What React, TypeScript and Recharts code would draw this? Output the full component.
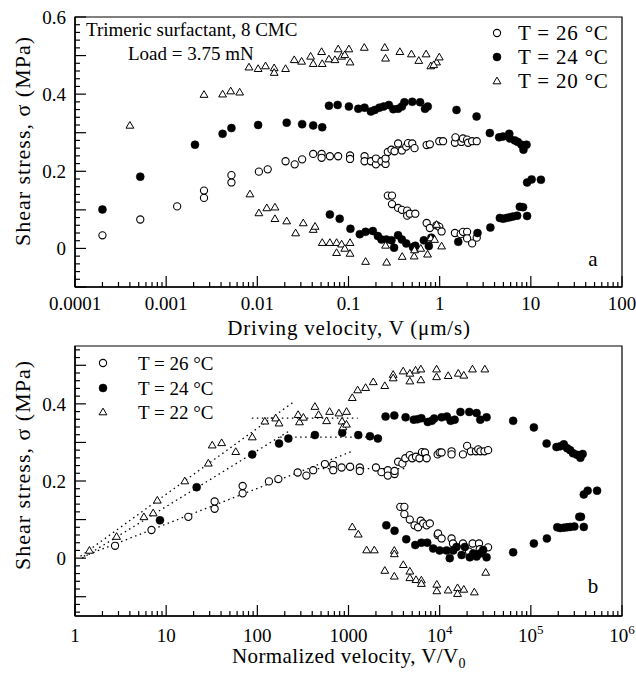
import React from 'react';
import { ScatterChart, Scatter, XAxis, YAxis, ReferenceLine, ReferenceArea } from 'recharts';

type P = [number, number];

// ---------- Panel a : driving velocity (um/s) vs shear stress (MPa) ----------
const aT26: P[] = [
  [2.0e-4, 0.034], [5.2e-4, 0.075], [1.32e-3, 0.109], [2.6e-3, 0.131], [2.6e-3, 0.150],
  [5.2e-3, 0.171], [5.2e-3, 0.190],
  [0.0104, 0.199], [0.013, 0.205], [0.0204, 0.226], [0.0257, 0.218], [0.031, 0.231],
  [0.041, 0.245], [0.0507, 0.245], [0.0507, 0.235], [0.0625, 0.239], [0.077, 0.239],
  [0.104, 0.241], [0.104, 0.232], [0.15, 0.239], [0.15, 0.226], [0.176, 0.226],
  [0.2, 0.218], [0.2, 0.233], [0.23, 0.226], [0.255, 0.219], [0.255, 0.233],
  [0.27, 0.25], [0.296, 0.256], [0.32, 0.252], [0.35, 0.272], [0.385, 0.254],
  [0.43, 0.264], [0.45, 0.273], [0.5, 0.272], [0.53, 0.26], [0.72, 0.268], [0.78, 0.27],
  [0.99, 0.278], [1.09, 0.278], [1.47, 0.274], [1.49, 0.288], [1.73, 0.276], [1.8, 0.285],
  [2.0, 0.282], [2.05, 0.274], [2.27, 0.278], [2.55, 0.278],
  [0.27, 0.137], [0.3, 0.137], [0.3, 0.115], [0.35, 0.105], [0.385, 0.10], [0.44, 0.098],
  [0.44, 0.085], [0.47, 0.09], [0.54, 0.09], [0.72, 0.066], [0.78, 0.053], [0.925, 0.06],
  [0.99, 0.056], [1.05, 0.044], [1.47, 0.04], [1.7, 0.037], [1.8, 0.043], [2.0, 0.043],
  [2.0, 0.026], [2.27, 0.013], [2.55, 0.028],
];

const aT24: P[] = [
  [2.0e-4, 0.101], [5.2e-4, 0.186], [2.07e-3, 0.269], [4.16e-3, 0.297], [5.2e-3, 0.312],
  [0.0102, 0.32], [0.021, 0.326], [0.031, 0.322], [0.041, 0.319], [0.0515, 0.314],
  [0.061, 0.37], [0.076, 0.372], [0.101, 0.368], [0.128, 0.362], [0.15, 0.365],
  [0.176, 0.355], [0.194, 0.359], [0.218, 0.365], [0.243, 0.368], [0.277, 0.372],
  [0.31, 0.361], [0.35, 0.362], [0.385, 0.368], [0.41, 0.379], [0.50, 0.38],
  [0.61, 0.379], [0.69, 0.362], [0.74, 0.368],
  [1.53, 0.359], [2.54, 0.342], [3.55, 0.299], [4.49, 0.288], [4.96, 0.29], [5.8, 0.297],
  [5.9, 0.285], [6.68, 0.28], [7.2, 0.276], [7.9, 0.269], [8.3, 0.256], [8.97, 0.269],
  [9.1, 0.171], [10.2, 0.179], [12.9, 0.178],
  [9.1, 0.084], [8.22, 0.107], [7.57, 0.108], [7.08, 0.085], [6.4, 0.083], [5.89, 0.081],
  [5.41, 0.079], [4.97, 0.077], [4.57, 0.079], [3.6, 0.054], [2.6, 0.040], [1.6, 0.017],
  [0.0625, 0.088], [0.08, 0.077], [0.105, 0.051], [0.133, 0.037], [0.154, 0.043],
  [0.185, 0.045], [0.21, 0.032], [0.23, 0.023], [0.26, 0.023], [0.296, 0.021],
  [0.316, 0.002], [0.35, 0.034], [0.385, 0.023], [0.43, 0.013], [0.51, 0.003],
  [0.54, 0.007], [0.67, 0.021], [0.76, 0.006], [0.81, 0.028],
];

const aT20: P[] = [
  [4.0e-4, 0.319], [2.6e-3, 0.399], [4.16e-3, 0.40], [5.1e-3, 0.408], [6.4e-3, 0.405],
  [8.1e-3, 0.47], [0.0102, 0.466], [0.0123, 0.473], [0.0153, 0.468], [0.0153, 0.456],
  [0.0204, 0.466], [0.0254, 0.489], [0.0306, 0.485], [0.0384, 0.498], [0.041, 0.479],
  [0.0507, 0.51], [0.0515, 0.479], [0.061, 0.491], [0.071, 0.489], [0.077, 0.517],
  [0.084, 0.498], [0.091, 0.502], [0.101, 0.517], [0.104, 0.483], [0.149, 0.521],
  [0.25, 0.521], [0.255, 0.493], [0.366, 0.51], [0.49, 0.504], [0.59, 0.487],
  [0.71, 0.504], [0.80, 0.473], [0.925, 0.483], [0.86, 0.476], [0.99, 0.496],
  [8.3e-3, 0.141], [0.0104, 0.092], [0.0127, 0.105], [0.0156, 0.107], [0.0156, 0.077],
  [0.021, 0.071], [0.0263, 0.040], [0.0319, 0.066], [0.041, 0.049], [0.043, 0.057],
  [0.0515, 0.015], [0.0625, 0.015], [0.074, 0.015], [0.074, -0.011], [0.084, 0.011],
  [0.091, 0.0], [0.104, 0.015], [0.104, -0.013], [0.154, -0.034], [0.255, 0.008],
  [0.262, -0.036], [0.388, -0.021], [0.525, -0.020], [0.53, -0.004], [0.62, 0.0],
  [0.736, -0.015], [0.80, 0.027], [0.925, 0.062], [0.88, 0.023], [1.05, 0.006],
];

// ---------- Panel b : normalized velocity V/V0 vs shear stress (MPa) ----------
const bT26: P[] = [
  [2.75, 0.032], [6.9, 0.073], [17.5, 0.107], [34, 0.128], [34, 0.147], [69, 0.168], [69, 0.187],
  [134, 0.199], [170, 0.205], [277, 0.222], [345, 0.214], [410, 0.228], [551, 0.244],
  [680, 0.242], [680, 0.228], [840, 0.235], [1040, 0.237], [1330, 0.235], [1330, 0.226],
  [2000, 0.235], [2300, 0.223], [2700, 0.228], [2700, 0.214], [3200, 0.218], [3200, 0.226],
  [3500, 0.25], [3900, 0.245], [4200, 0.259], [4700, 0.267], [5000, 0.259], [5500, 0.263],
  [6000, 0.259], [6400, 0.275], [6900, 0.274], [7200, 0.259], [9500, 0.269], [10000, 0.274],
  [10500, 0.274], [13500, 0.277], [13500, 0.269], [18000, 0.269], [20000, 0.291],
  [22000, 0.277], [25000, 0.277], [26500, 0.282], [28000, 0.277], [31000, 0.277], [34000, 0.28],
  [3700, 0.133], [4100, 0.133], [4100, 0.114], [4700, 0.1], [5300, 0.085], [5800, 0.08],
  [6200, 0.097], [6600, 0.09], [7200, 0.085], [7800, 0.09], [9500, 0.06], [9600, 0.064],
  [10500, 0.051], [13500, 0.051], [14000, 0.038], [18000, 0.038], [21000, 0.017],
  [23000, 0.038], [27000, 0.038], [27500, 0.023], [34000, 0.028],
];

const bT24: P[] = [
  [8.55, 0.098], [21.6, 0.184], [88, 0.269], [173, 0.297], [219, 0.31], [428, 0.319],
  [853, 0.325], [1280, 0.319], [1720, 0.316], [2100, 0.31],
  [2550, 0.367], [3180, 0.37], [4230, 0.365], [5200, 0.359], [5700, 0.36], [6300, 0.363],
  [7400, 0.353], [8200, 0.356], [8700, 0.362], [10500, 0.365], [12000, 0.367],
  [13200, 0.356], [14600, 0.359], [16900, 0.379], [21100, 0.379], [25400, 0.376],
  [27900, 0.359], [32700, 0.365],
  [64000, 0.356], [108000, 0.339], [149000, 0.297], [191000, 0.288], [210000, 0.29],
  [230000, 0.295], [250000, 0.285], [270000, 0.28], [290000, 0.272], [320000, 0.268],
  [350000, 0.26], [370000, 0.27],
  [381000, 0.165], [420000, 0.175], [533000, 0.175],
  [381000, 0.081], [340000, 0.107], [355000, 0.107], [300000, 0.082], [270000, 0.081],
  [250000, 0.08], [230000, 0.079], [210000, 0.078], [195000, 0.08], [150000, 0.051],
  [108000, 0.038], [64000, 0.015],
  [2600, 0.085], [3200, 0.071], [4300, 0.049], [5400, 0.034], [6300, 0.04], [7300, 0.04],
  [8490, 0.025], [10000, 0.02], [11900, 0.02], [12900, 0.0], [14100, 0.02], [15300, 0.029],
  [17400, 0.008], [18900, 0.029], [21400, 0.002], [23300, 0.012], [25400, 0.004],
  [27600, 0.012], [30000, 0.021], [32700, 0.002],
];

const bT22: P[] = [
  [1.44, 0.02], [2.86, 0.056], [5.7, 0.107], [7.2, 0.117], [8.0, 0.15], [16, 0.20],
  [29, 0.246], [32, 0.293], [40.6, 0.299], [58, 0.276], [88, 0.314], [121, 0.355],
  [159, 0.363], [173, 0.35], [280, 0.372], [290, 0.353], [320, 0.365], [428, 0.393],
  [470, 0.372], [575, 0.356], [620, 0.38], [785, 0.376], [850, 0.355], [870, 0.34],
  [953, 0.38], [950, 0.347],
  [1100, 0.416], [1260, 0.436], [1540, 0.442], [1870, 0.457], [2500, 0.447], [3090, 0.476],
  [3090, 0.467], [3980, 0.485], [4710, 0.479], [4710, 0.459], [5440, 0.487], [6220, 0.49],
  [6220, 0.462], [9250, 0.49], [9250, 0.47], [12400, 0.473], [16000, 0.479], [18400, 0.474],
  [22900, 0.49], [31300, 0.49],
  [1100, 0.081], [1280, 0.062], [1580, 0.021], [1920, 0.021], [3180, 0.02], [3180, 0.011],
  [2500, -0.032], [3180, -0.047], [3990, -0.017], [4710, -0.034], [4710, -0.051],
  [5500, -0.056], [6300, -0.057], [6300, -0.066], [9300, -0.068], [9300, -0.085],
  [12400, -0.083], [15700, -0.077], [15700, -0.092], [18400, -0.081], [24000, -0.088],
  [32000, -0.037],
];

// dotted guide lines of panel b (segment end points)
const fit22: P[] = [[1.15, 0.005], [254, 0.406]];
const fit24: P[] = [[1.2, 0.0], [225, 0.33]];
const fit26: P[] = [[1.25, 0.005], [1070, 0.276]];
const plateau22: P[] = [[87, 0.363], [1260, 0.363]];
const plateau24: P[] = [[178, 0.314], [2500, 0.314]];
const plateau26: P[] = [[460, 0.232], [4100, 0.232]];

// axes
const majorsA = [1e-4, 1e-3, 1e-2, 0.1, 1, 10, 100];
const labelsA = ['0.0001', '0.001', '0.01', '0.1', '1', '10', '100'];
const majorsB = [1, 10, 100, 1000, 1e4, 1e5, 1e6];
const labelsB = ['1', '10', '100', '1000', '10^4', '10^5', '10^6'];
const minorFactors = [2, 3, 4, 5, 6, 7, 8, 9];
const withMinor = (majors: number[]) => {
  const out: number[] = [];
  majors.forEach((m, i) => {
    out.push(m);
    if (i < majors.length - 1) minorFactors.forEach((f) => out.push(m * f));
  });
  return out;
};
const xTicksA = withMinor(majorsA);
const xTicksB = withMinor(majorsB);
const yTicksA = Array.from({ length: 36 }, (_, i) => (i - 5) / 50);
const yTicksB = Array.from({ length: 35 }, (_, i) => (i - 7) / 50);

const FONT = '"Liberation Serif", "Times New Roman", serif';

const toXY = (arr: P[]) => arr.map(([x, y]) => ({ x, y }));
const seg = (s: P[]) => s.map(([x, y]) => ({ x, y }));

const OpenCircle = (p: any) =>
  p.cx == null ? <g /> : <circle cx={p.cx} cy={p.cy} r={3.6} fill="#fff" stroke="#000" strokeWidth={1.1} />;
const FilledCircle = (p: any) =>
  p.cx == null ? <g /> : <circle cx={p.cx} cy={p.cy} r={4} fill="#000" stroke="#000" strokeWidth={0.5} />;
const Triangle = (p: any) =>
  p.cx == null ? (
    <g />
  ) : (
    <path
      d={`M${p.cx},${p.cy - 3.9}L${p.cx + 3.9},${p.cy + 2.8}L${p.cx - 3.9},${p.cy + 2.8}Z`}
      fill="#fff"
      stroke="#000"
      strokeWidth={1}
    />
  );

const renderLabel = (lab: string) => {
  if (lab.includes('^')) {
    const [b, e] = lab.split('^');
    return (
      <>
        {b}
        <tspan dy={-8} fontSize={13}>
          {e}
        </tspan>
      </>
    );
  }
  return lab;
};

const makeXTick = (majors: number[], labels: string[], offset: number) => (props: any) => {
  const { x, y, payload } = props;
  const v = payload.value;
  const idx = majors.findIndex((m) => Math.abs(m - v) / m < 1e-6);
  const major = idx >= 0;
  return (
    <g>
      <line x1={x} x2={x} y1={y} y2={y - (major ? 11 : 5)} stroke="#000" strokeWidth={1.2} />
      {major && (
        <text x={x} y={y + offset} textAnchor="middle" fontSize={19} fontFamily={FONT} fill="#000">
          {renderLabel(labels[idx])}
        </text>
      )}
    </g>
  );
};

const YTick = (props: any) => {
  const { x, y, payload } = props;
  const k = Math.round(payload.value * 100);
  const major = k % 10 === 0;
  const labeled = k % 20 === 0;
  const txt = k === 0 ? '0' : (k / 100).toFixed(1);
  return (
    <g>
      <line x1={x} x2={x + (major ? 11 : 5)} y1={y} y2={y} stroke="#000" strokeWidth={1.2} />
      {labeled && (
        <text x={x - 9} y={y} dy="0.36em" textAnchor="end" fontSize={19} fontFamily={FONT} fill="#000">
          {txt}
        </text>
      )}
    </g>
  );
};

const XTickA = makeXTick(majorsA, labelsA, 23);
const XTickB = makeXTick(majorsB, labelsB, 26);

const dotted = { stroke: '#000', strokeWidth: 1.3, strokeDasharray: '1.5 3.5' };

export default function App() {
  return (
    <div style={{ position: 'absolute', left: 0, top: 0, width: 636, height: 673, background: '#fff', fontFamily: FONT }}>
      <div style={{ position: 'absolute', left: 0, top: 0 }}>
        <ScatterChart width={636} height={330} margin={{ top: 17, right: 14, bottom: 0, left: 0 }}>
          <XAxis
            type="number"
            dataKey="x"
            scale="log"
            domain={[1e-4, 100]}
            allowDataOverflow
            ticks={xTicksA}
            interval={0}
            tickSize={0}
            tickMargin={0}
            tickLine={false}
            tick={XTickA}
            height={43}
            axisLine={{ stroke: '#000', strokeWidth: 1.5 }}
          />
          <YAxis
            type="number"
            dataKey="y"
            domain={[-0.1, 0.6]}
            allowDataOverflow
            ticks={yTicksA}
            interval={0}
            tickSize={0}
            tickMargin={0}
            tickLine={false}
            tick={YTick}
            width={75}
            axisLine={{ stroke: '#000', strokeWidth: 1.5 }}
          />
          <ReferenceArea x1={1e-4} x2={100} y1={-0.1} y2={0.6} fill="none" stroke="#000" strokeWidth={1.2} />
          <Scatter data={toXY(aT26)} shape={OpenCircle} isAnimationActive={false} />
          <Scatter data={toXY(aT24)} shape={FilledCircle} isAnimationActive={false} />
          <Scatter data={toXY(aT20)} shape={Triangle} isAnimationActive={false} />
        </ScatterChart>
      </div>
      <div style={{ position: 'absolute', left: 0, top: 330 }}>
        <ScatterChart width={636} height={343} margin={{ top: 16, right: 14, bottom: 0, left: 0 }}>
          <XAxis
            type="number"
            dataKey="x"
            scale="log"
            domain={[1, 1e6]}
            allowDataOverflow
            ticks={xTicksB}
            interval={0}
            tickSize={0}
            tickMargin={0}
            tickLine={false}
            tick={XTickB}
            height={57}
            axisLine={{ stroke: '#000', strokeWidth: 1.5 }}
          />
          <YAxis
            type="number"
            dataKey="y"
            domain={[-0.15, 0.55]}
            allowDataOverflow
            ticks={yTicksB}
            interval={0}
            tickSize={0}
            tickMargin={0}
            tickLine={false}
            tick={YTick}
            width={75}
            axisLine={{ stroke: '#000', strokeWidth: 1.5 }}
          />
          <ReferenceArea x1={1} x2={1e6} y1={-0.15} y2={0.55} fill="none" stroke="#000" strokeWidth={1.2} />
          <ReferenceLine segment={seg(fit22)} {...dotted} />
          <ReferenceLine segment={seg(fit24)} {...dotted} />
          <ReferenceLine segment={seg(fit26)} {...dotted} />
          <ReferenceLine segment={seg(plateau22)} {...dotted} />
          <ReferenceLine segment={seg(plateau24)} {...dotted} />
          <ReferenceLine segment={seg(plateau26)} {...dotted} />
          <Scatter data={toXY(bT26)} shape={OpenCircle} isAnimationActive={false} />
          <Scatter data={toXY(bT24)} shape={FilledCircle} isAnimationActive={false} />
          <Scatter data={toXY(bT22)} shape={Triangle} isAnimationActive={false} />
        </ScatterChart>
      </div>
      <svg
        width={636}
        height={673}
        style={{ position: 'absolute', left: 0, top: 0, pointerEvents: 'none' }}
        fontFamily={FONT}
        fill="#000"
      >
        {/* panel a texts */}
        <text x={86} y={36} fontSize={19}>Trimeric surfactant, 8 CMC</text>
        <text x={128} y={60} fontSize={19}>Load = 3.75 mN</text>
        <OpenCircle cx={497} cy={33} />
        <FilledCircle cx={497} cy={57} />
        <Triangle cx={497} cy={81} />
        <text x={518} y={40} fontSize={21} letterSpacing={0.8}>T = 26 °C</text>
        <text x={518} y={64} fontSize={21} letterSpacing={0.8}>T = 24 °C</text>
        <text x={518} y={88} fontSize={21} letterSpacing={0.8}>T = 20 °C</text>
        <text x={593} y={266} fontSize={21} textAnchor="middle">a</text>
        <text x={349} y={335} fontSize={21} letterSpacing={0.8} textAnchor="middle">Driving velocity, V (μm/s)</text>
        <text x={30} y={141} fontSize={22} letterSpacing={1} textAnchor="middle" transform="rotate(-90 30 141)">
          Shear stress, σ (MPa)
        </text>
        {/* panel b texts */}
        <OpenCircle cx={103} cy={363} />
        <FilledCircle cx={103} cy={388} />
        <Triangle cx={103} cy={412} />
        <text x={138} y={370} fontSize={19}>T = 26 °C</text>
        <text x={138} y={395} fontSize={19}>T = 24 °C</text>
        <text x={138} y={419} fontSize={19}>T = 22 °C</text>
        <text x={593} y={593} fontSize={21} textAnchor="middle">b</text>
        <text x={349} y={663} fontSize={21} letterSpacing={0.4} textAnchor="middle">
          Normalized velocity, V/V<tspan dy={5} fontSize={14}>0</tspan>
        </text>
        <text x={30} y={465} fontSize={22} letterSpacing={1} textAnchor="middle" transform="rotate(-90 30 465)">
          Shear stress, σ (MPa)
        </text>
      </svg>
    </div>
  );
}
